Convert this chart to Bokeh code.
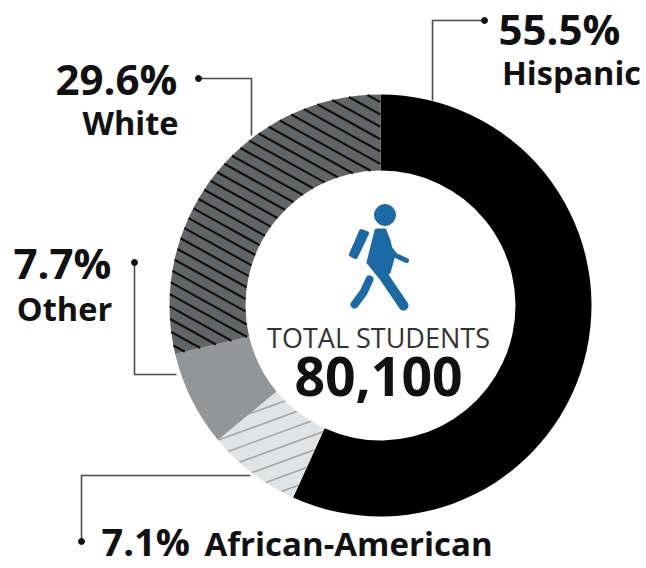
from bokeh.plotting import figure
from bokeh.embed import file_html
from bokeh.resources import INLINE
from bokeh.models import Range1d
from bokeh.core.properties import value
import numpy as np

# Labels as printed
categories = ["Hispanic", "African-American", "Other", "White"]
printed_pct = ["55.5%", "7.1%", "7.7%", "29.6%"]
total_label = "TOTAL STUDENTS"
total_value = "80,100"
drawn_share = [56.8, 7.2, 7.3, 28.7]
colors = ["#000000", "#e1e3e5", "#939598", "#636466"]

W, H = 646, 568
CX, CY, R_OUT, R_IN = 380, 305, 211, 135
def X(s): return np.asarray(s, dtype=float) - CX
def Y(s): return CY - np.asarray(s, dtype=float)

p = figure(width=W, height=H, output_backend="svg", toolbar_location=None,
           x_range=Range1d(-CX, W - CX), y_range=Range1d(CY - H, CY),
           min_border=0, outline_line_color=None)
p.axis.visible = False
p.grid.visible = False

# clockwise angles from the top
cum = np.concatenate([[0], np.cumsum(drawn_share)]) / sum(drawn_share) * 2 * np.pi
starts = np.pi / 2 - cum[:-1]
ends = np.pi / 2 - cum[1:]
p.annular_wedge(x=0, y=0, inner_radius=R_IN, outer_radius=R_OUT, start_angle=starts,
                end_angle=ends, direction="clock", fill_color=colors, line_color=None)

def hatch(idx, slope_deg, spacing):
    """Parallel lines clipped to one slice of the ring."""
    a0, a1 = cum[idx], cum[idx + 1]
    t = np.radians(slope_deg)
    d = np.array([np.cos(t), np.sin(t)])
    n = np.array([-d[1], d[0]])
    xs, ys = [], []
    s = np.arange(-R_OUT, R_OUT, 0.25)
    for off in np.arange(-R_OUT, R_OUT, spacing):
        px = n[0] * off + d[0] * s
        py = n[1] * off + d[1] * s
        rr = np.hypot(px, py)
        ang = np.mod(np.arctan2(px, py), 2 * np.pi)
        m = (rr >= R_IN) & (rr <= R_OUT) & (ang >= a0) & (ang <= a1)
        if not m.any():
            continue
        edges = np.flatnonzero(np.diff(np.concatenate([[0], m.astype(int), [0]])))
        for b, e in zip(edges[::2], edges[1::2]):
            xs.append([px[b], px[e - 1]])
            ys.append([py[b], py[e - 1]])
    return xs, ys

xs, ys = hatch(3, -29, 10.8)
p.multi_line(xs, ys, line_color="#111111", line_width=2.2)
xs, ys = hatch(1, 20, 14)
p.multi_line(xs, ys, line_color="#a3a5a8", line_width=1.6)

# leader lines
leaders = [([432, 432, 484], [100, 20, 20]),
           ([198, 251, 251], [78, 78, 135]),
           ([134, 134, 176], [262, 374, 374]),
           ([81, 81, 250], [541, 475, 475])]
for lx, ly in leaders:
    p.line(X(lx), Y(ly), line_color="#4a4a4c", line_width=1.6)
    dot = (lx[-1], ly[-1]) if lx[0] == 432 else (lx[0], ly[0])
    p.scatter([X(dot[0])], [Y(dot[1])], size=6, color="#111111")

# walker icon
blue = "#1c6aa5"
p.scatter([X(384.5)], [Y(214.5)], size=21, color=blue)
p.patch(X([361, 366, 355, 351]), Y([231, 233, 256, 254]), fill_color=blue, line_color=blue, line_width=5, line_join="round")
p.patch(X([376, 384, 388, 392, 388, 378, 368]), Y([230, 230, 240, 258, 272, 268, 262]),
        fill_color=blue, line_color=blue, line_width=4, line_join="round")
p.line(X([387, 395, 406]), Y([245, 255, 260]), line_color=blue, line_width=5, line_cap="round")
p.line(X([372, 384, 403]), Y([262, 277, 305]), line_color=blue, line_width=10, line_cap="round")
p.line(X([369, 363, 354]), Y([279, 292, 304]), line_color=blue, line_width=8, line_cap="round")

# texts
FONT = value("Open Sans")
def label(x, y, txt, size, style="bold", align="center", color="#111111"):
    p.text([X(x)], [Y(y)], text=[txt], text_font=FONT, text_font_size=f"{size}px",
           text_font_style=style, text_align=align, text_baseline="middle", text_color=color)

label(498, 28, printed_pct[0], 42, align="left")
label(571, 72, categories[0], 32.5)
label(116, 78, printed_pct[3], 42)
label(130, 122, categories[3], 32.5)
label(62, 262, printed_pct[2], 42)
label(64, 308, categories[2], 32.5)
label(101, 540, printed_pct[1], 38, align="left")
label(204, 543, categories[1], 33, align="left")
label(378, 337, total_label, 27, style="normal", color="#333333")
label(378, 376, total_value, 53.5)

open("out.html", "w").write(file_html(p, INLINE))
